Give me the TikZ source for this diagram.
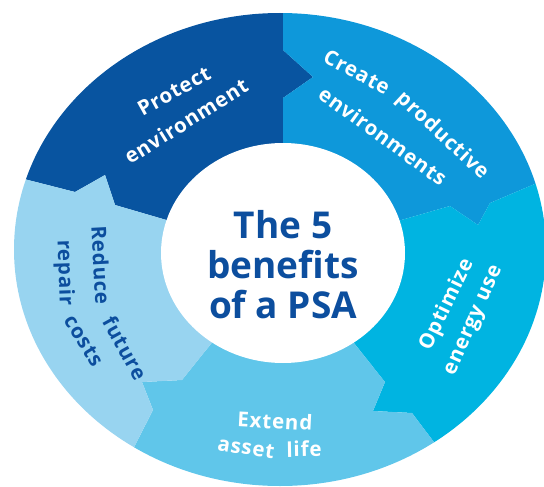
\documentclass[tikz,border=0pt]{standalone}
\usepackage{fontspec}
\setmainfont{Open Sans}
\newfontfamily\lblfont[LetterSpace=4]{Open Sans}
\definecolor{cProt}{RGB}{8,84,160}
\definecolor{cCreate}{RGB}{14,152,218}
\definecolor{cOpt}{RGB}{0,180,225}
\definecolor{cExt}{RGB}{96,198,234}
\definecolor{cRed}{RGB}{152,212,240}
\definecolor{cText}{RGB}{12,78,158}
\begin{document}
\begin{tikzpicture}[x=1pt,y=-1pt,
  lbl/.style={font=\lblfont\fontsize{20.5}{23}\selectfont\bfseries, text=white, inner sep=0pt},
  lbldark/.style={lbl, text=cText},
  centertext/.style={font=\fontsize{37}{40}\selectfont\bfseries, text=cText, align=center, inner sep=0pt}]
\useasboundingbox (0,0) rectangle (544,487);
\coordinate (C) at (283,254);
% boundary Protect -> Create
\coordinate (b1a) at (283,98);  \coordinate (b1t) at (313,77);  \coordinate (b1b) at (283,50);  \coordinate (b1f) at (283,-300);
% boundary Create -> Optimize
\coordinate (b2a) at (450,206); \coordinate (b2t) at (478,225); \coordinate (b2b) at (490,203); \coordinate (b2f) at (800,71);
% boundary Optimize -> Extend
\coordinate (b3a) at (385,382); \coordinate (b3t) at (373,411); \coordinate (b3b) at (412,413); \coordinate (b3f) at (692,783);
% boundary Extend -> Reduce
\coordinate (b4a) at (182,380); \coordinate (b4t) at (142,382); \coordinate (b4b) at (153,410); \coordinate (b4f) at (-15,740);
% boundary Reduce -> Protect
\coordinate (b5a) at (115,205); \coordinate (b5t) at (105,175); \coordinate (b5b) at (75,192);  \coordinate (b5f) at (-301,96);
\begin{scope}
  \clip (280,249.5) ellipse [x radius=266, y radius=236.5];
  \fill[cProt] (C) -- (b5a) -- (b5t) -- (b5b) -- (b5f) -- (-300,-300) -- (b1f) -- (b1b) -- (b1t) -- (b1a) -- cycle;
  \fill[cCreate] (C) -- (b1a) -- (b1t) -- (b1b) -- (b1f) -- (900,-300) -- (b2f) -- (b2b) -- (b2t) -- (b2a) -- cycle;
  \fill[cOpt] (C) -- (b2a) -- (b2t) -- (b2b) -- (b2f) -- (900,800) -- (b3f) -- (b3b) -- (b3t) -- (b3a) -- cycle;
  \fill[cExt] (C) -- (b3a) -- (b3t) -- (b3b) -- (b3f) -- (340,900) -- (b4f) -- (b4b) -- (b4t) -- (b4a) -- cycle;
  \fill[cRed] (C) -- (b4a) -- (b4t) -- (b4b) -- (b4f) -- (-300,700) -- (b5f) -- (b5b) -- (b5t) -- (b5a) -- cycle;
\end{scope}
\fill[white] (283,253) ellipse [x radius=122, y radius=110];
\node[centertext] (title) at (283,265) {The 5\\benefits\\of a PSA};
% Protect environment
\node[lbl, rotate=29] (prot1) at (174,91) {Protect};
\node[lbl, rotate=32] (prot2) at (186,121) {environment};
% Create productive environments
\node[lbl, rotate=-28] (cre1) at (357,72) {Create};
\node[lbl, rotate=-43] (cre2) at (442,136) {productive};
\node[lbl, rotate=-36] (cre3) at (383,136) {environments};
% Optimize energy use
\node[lbl, rotate=64] (opt1) at (447,305) {Optimize};
\node[lbl, rotate=66] (opt2) at (475,321) {energy use};
% Extend asset life
\node[lbl, rotate=-3] (ext1) at (275,421) {Extend};
\node[lbl, rotate=-9] (ext2) at (246,448) {asset};
\node[lbl, rotate=1] (ext3) at (304,449) {life};
% Reduce future repair costs
\node[lbldark, rotate=-87] (red1) at (101,265) {Reduce};
\node[lbldark, rotate=-61] (red2) at (125,348) {future};
\node[lbldark, rotate=-88] (red3) at (64,273) {repair};
\node[lbldark, rotate=-58] (red4) at (84,341) {costs};
\end{tikzpicture}
\end{document}
